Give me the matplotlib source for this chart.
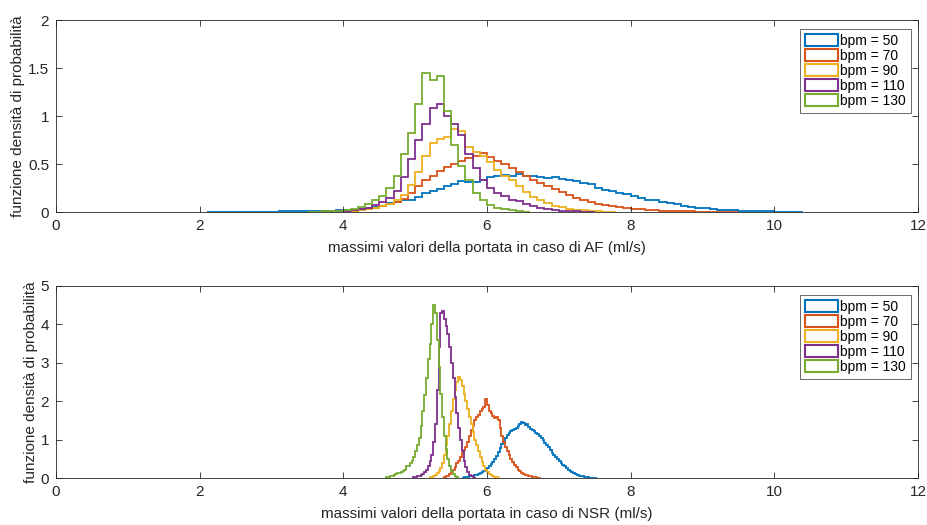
import numpy as np
import matplotlib.pyplot as plt
from matplotlib.patches import Patch

plt.rcParams['font.family'] = ['Liberation Sans', 'DejaVu Sans']

labels = ['bpm = 50', 'bpm = 70', 'bpm = 90', 'bpm = 110', 'bpm = 130']
colors = ['#0072BD', '#D95319', '#EDB120', '#7E2F8E', '#77AC30']

# AF: densita' per bin (larghezza 0.1), primo bordo di ogni serie
af_width = 0.1
af_start = [2.1, 3.6, 3.7, 3.6, 3.5]
af_50 = [0.002, 0.002, 0.003, 0.002, 0.003, 0.004, 0.003, 0.004, 0.005,
         0.005, 0.006, 0.006, 0.007, 0.008, 0.01, 0.011, 0.013, 0.015, 0.018,
         0.02, 0.025, 0.03, 0.04, 0.05, 0.065, 0.09, 0.1, 0.12, 0.13,
         0.16, 0.2, 0.22, 0.24, 0.27, 0.29, 0.32, 0.31, 0.31, 0.33,
         0.36, 0.37, 0.39, 0.38, 0.4, 0.38, 0.38, 0.36, 0.35, 0.36,
         0.34, 0.33, 0.32, 0.3, 0.29, 0.25, 0.23, 0.22, 0.2, 0.19,
         0.17, 0.15, 0.13, 0.12, 0.1, 0.09, 0.08, 0.065, 0.055, 0.045,
         0.04, 0.03, 0.025, 0.02, 0.018, 0.015, 0.012, 0.01, 0.008, 0.007,
         0.005, 0.004, 0.003, 0.003]
af_70 = [0.003, 0.005, 0.008, 0.01, 0.012, 0.015, 0.02, 0.03, 0.04, 0.06,
         0.08, 0.1, 0.14, 0.2, 0.27, 0.33, 0.38, 0.43, 0.47, 0.5,
         0.53, 0.56, 0.58, 0.61, 0.57, 0.53, 0.5, 0.46, 0.42, 0.38,
         0.33, 0.3, 0.27, 0.24, 0.21, 0.18, 0.15, 0.13, 0.1, 0.085,
         0.07, 0.06, 0.05, 0.045, 0.035, 0.03, 0.025, 0.02, 0.015, 0.012,
         0.01, 0.008, 0.006, 0.005, 0.004, 0.003, 0.002, 0.002, 0.001]
af_90 = [0.005, 0.005, 0.008, 0.01, 0.015, 0.02, 0.03, 0.04, 0.06, 0.08,
         0.12, 0.18, 0.28, 0.42, 0.58, 0.72, 0.76, 0.78, 0.86, 0.84,
         0.68, 0.63, 0.58, 0.52, 0.44, 0.38, 0.33, 0.27, 0.21, 0.16,
         0.12, 0.09, 0.065, 0.05, 0.035, 0.025, 0.018, 0.012, 0.008, 0.005,
         0.003]
af_110 = [0.005, 0.005, 0.01, 0.01, 0.015, 0.02, 0.03, 0.045, 0.07, 0.1,
          0.15, 0.22, 0.36, 0.55, 0.75, 0.92, 1.08, 1.12, 1.0, 0.92,
          0.8, 0.6, 0.46, 0.33, 0.25, 0.2, 0.17, 0.13, 0.11, 0.08,
          0.065, 0.045, 0.03, 0.02, 0.015, 0.01, 0.008, 0.005, 0.003]
af_130 = [0.005, 0.005, 0.01, 0.01, 0.015, 0.02, 0.03, 0.05, 0.08, 0.12,
          0.17, 0.25, 0.38, 0.6, 0.82, 1.12, 1.45, 1.38, 1.42, 1.05,
          0.7, 0.48, 0.33, 0.2, 0.12, 0.07, 0.045, 0.03, 0.02, 0.01,
          0.005]

# NSR: densita' per bin (larghezza 0.025)
nsr_width = 0.025
nsr_start = [5.65, 5.4, 5.2, 4.95, 4.6]
nsr_50 = [0.01, 0.02, 0.02, 0.03, 0.04, 0.05, 0.06, 0.08, 0.09, 0.1,
          0.12, 0.15, 0.18, 0.22, 0.26, 0.3, 0.36, 0.42, 0.5, 0.58,
          0.68, 0.78, 0.88, 0.95, 1.05, 1.12, 1.18, 1.22, 1.25, 1.28,
          1.3, 1.35, 1.4, 1.45, 1.42, 1.38, 1.4, 1.32, 1.28, 1.25,
          1.22, 1.18, 1.15, 1.1, 1.05, 1.0, 0.92, 0.85, 0.8, 0.72,
          0.66, 0.6, 0.55, 0.5, 0.45, 0.4, 0.35, 0.3, 0.26, 0.22,
          0.18, 0.15, 0.12, 0.1, 0.08, 0.06, 0.05, 0.04, 0.03, 0.02,
          0.02, 0.01, 0.01, 0.01, 0.01]
nsr_70 = [0.02, 0.04, 0.06, 0.1, 0.15, 0.2, 0.28, 0.38, 0.45, 0.55,
          0.65, 0.72, 0.8, 0.95, 1.1, 1.25, 1.35, 1.5, 1.6, 1.65,
          1.75, 1.8, 1.85, 2.05, 1.9, 1.75, 1.7, 1.62, 1.55, 1.6,
          1.5, 1.3, 1.1, 0.95, 0.8, 0.7, 0.6, 0.5, 0.42, 0.35,
          0.28, 0.22, 0.18, 0.14, 0.11, 0.09, 0.07, 0.05, 0.04, 0.03,
          0.02, 0.02, 0.01, 0.01]
nsr_90 = [0.02, 0.03, 0.05, 0.08, 0.12, 0.18, 0.25, 0.4, 0.6, 0.85,
          1.1, 1.4, 1.75, 2.05, 2.3, 2.5, 2.62, 2.55, 2.4, 2.2,
          2.0, 1.8, 1.6, 1.4, 1.2, 1.0, 0.85, 0.7, 0.55, 0.42,
          0.3, 0.22, 0.15, 0.1, 0.07, 0.05, 0.03, 0.02, 0.01]
nsr_110 = [0.01, 0.02, 0.03, 0.04, 0.06, 0.08, 0.1, 0.15, 0.2, 0.3,
           0.45, 0.6, 0.95, 1.4, 2.3, 3.4, 4.3, 4.35, 4.15, 3.95,
           3.75, 3.4, 3.0, 2.6, 2.1, 1.7, 1.3, 1.0, 0.7, 0.45,
           0.28, 0.15, 0.08, 0.04, 0.02, 0.01]
nsr_130 = [0.02, 0.03, 0.05, 0.06, 0.08, 0.1, 0.12, 0.12, 0.15, 0.17,
           0.2, 0.3, 0.32, 0.38, 0.45, 0.55, 0.7, 0.85, 1.05, 1.35,
           1.75, 2.15, 2.6, 3.1, 3.5, 4.0, 4.5, 4.3, 3.6, 2.9,
           2.2, 1.6, 1.1, 0.75, 0.5, 0.3, 0.18, 0.1, 0.05, 0.02]

af_series = [af_50, af_70, af_90, af_110, af_130]
nsr_series = [nsr_50, nsr_70, nsr_90, nsr_110, nsr_130]

fig = plt.figure(figsize=(9.28, 5.25), dpi=100)
ax1 = fig.add_axes([56 / 928, 1 - 212 / 525, 862 / 928, 192 / 525])
ax2 = fig.add_axes([56 / 928, 1 - 478 / 525, 862 / 928, 192 / 525])

def draw(ax, series, starts, width, ymax, yticks, xlabel):
    for vals, s, c in zip(series, starts, colors):
        edges = s + width * np.arange(len(vals) + 1)
        ax.stairs(vals, edges, baseline=0, color=c, linewidth=1.3)
    ax.set_xlim(0, 12)
    ax.set_ylim(0, ymax)
    ax.set_xticks(range(0, 13, 2))
    ax.set_yticks(yticks)
    ax.set_yticklabels([f'{t:g}' for t in yticks])
    ax.tick_params(direction='in', length=4, width=0.6, top=True, right=True,
                   labelsize=11, colors='#262626', pad=5)
    for sp in ax.spines.values():
        sp.set_color('#262626')
        sp.set_linewidth(0.6)
    ax.set_xlabel(xlabel, fontsize=11, color='#262626', labelpad=6)
    ax.set_ylabel('funzione densità di probabilità', fontsize=11, color='#262626', labelpad=2)
    handles = [Patch(facecolor='white', edgecolor=c, linewidth=1.5) for c in colors]
    leg = ax.legend(handles, labels, loc='upper right', bbox_to_anchor=(0.992, 0.955),
                    fontsize=10, frameon=True, fancybox=False, edgecolor='#262626',
                    handlelength=2.35, handleheight=0.95, handletextpad=0.2,
                    labelspacing=0.08, borderpad=0.35, borderaxespad=0)
    leg.get_frame().set_linewidth(0.6)

draw(ax1, af_series, af_start, af_width, 2, [0, 0.5, 1, 1.5, 2],
     'massimi valori della portata in caso di AF (ml/s)')
draw(ax2, nsr_series, nsr_start, nsr_width, 5, [0, 1, 2, 3, 4, 5],
     'massimi valori della portata in caso di NSR (ml/s)')

fig.savefig('out.png', dpi=100)
